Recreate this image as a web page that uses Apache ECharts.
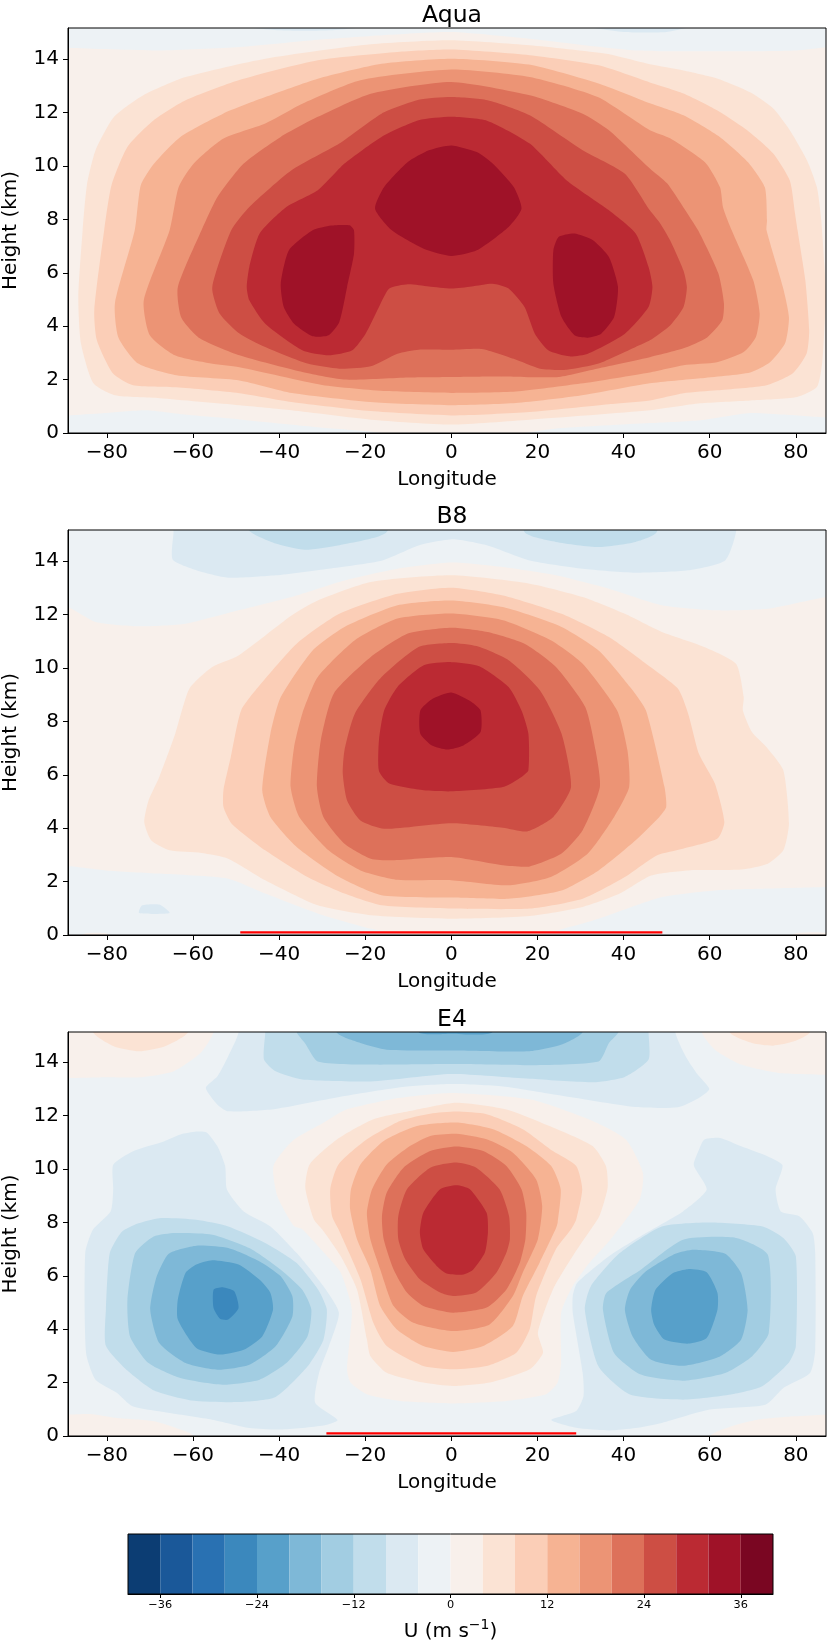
<!DOCTYPE html>
<html>
<head>
<meta charset="utf-8">
<title>U by longitude and height</title>
<script src="https://cdn.jsdelivr.net/npm/echarts@6/dist/echarts.min.js"></script>
<style>
  html, body { margin: 0; padding: 0; background: #fff; }
  #chart { width: 830px; height: 1642px; }
</style>
</head>
<body>
<div id="chart"></div>
<script>
// colour bar: lower edge of each 4 m/s band and its colour
const bandEdges = [-40, -36, -32, -28, -24, -20, -16, -12, -8, -4, 0, 4, 8, 12, 16, 20, 24, 28, 32, 36];
const bandColors = ['#0c3d73', '#1a5899', '#2971b2', '#3b88bd', '#57a0ca', '#7eb8d7', '#a2cde2', '#c1ddeb', '#dbe9f2', '#edf2f5',
  '#f8f0eb', '#fbe3d4', '#fbceb7', '#f6b393', '#ec9475', '#dd715a', '#cd4e44', '#bb2a33', '#9f1228', '#7a0622'];
const barTicks = [-36, -24, -12, 0, 12, 24, 36];
const lonTicks = [-80, -60, -40, -20, 0, 20, 40, 60, 80];
const heightTicks = [0, 2, 4, 6, 8, 10, 12, 14];

// everything below is [longitude, height km]
const wholePanel = [[-92, -1], [90, -1], [90, 17], [-92, 17]];

// --- Aqua
const aquaTopNeg = [[-92, 14.42], [-89, 14.42], [-68, 14.33], [-49, 14.46], [-31, 14.73], [-16, 14.9], [0, 15.02], [18, 14.77], [43, 14.33], [67, 14.3], [80, 14.33], [87, 14.45], [90, 14.45], [90, 17], [-92, 17]];
const aquaTopL = [[-52, 15.3], [-40, 15.08], [-28, 15.08], [-16, 15.3]];
const aquaTopR = [[29, 15.3], [40, 15.02], [50, 15.02], [57, 15.3]];
const aquaBotNeg = [[-92, 0.66], [-88.9, 0.66], [-80.9, 0.74], [-70.8, 0.85], [-62, 0.69], [-49.2, 0.51], [-31, 0.22], [-19, 0.06], [-11, -0.1], [12, -0.1], [24, 0.16], [46.1, 0.37], [57.8, 0.48], [69.4, 0.75], [77, 0.69], [87, 0.58], [90, 0.58], [90, -1], [-92, -1]];
const aquaU4 = [[0, 14.71], [18.2, 14.52], [36, 14.2], [46.1, 13.81], [53.9, 13.58], [61.7, 13.28], [69.4, 12.76], [74.7, 12.16], [78.6, 11.34], [82.6, 10.21], [84.9, 9.2], [85.9, 7.97], [86.6, 6.35], [87, 5.09], [86.6, 3.85], [86.1, 2.6], [84.9, 1.72], [80.3, 1.35], [69.4, 1.22], [57.8, 1.11], [46.1, 0.85], [18.2, 0.5], [0, 0.32], [-18.7, 0.5], [-37.1, 0.85], [-49.2, 1.04], [-67.7, 1.3], [-78.1, 1.41], [-83.1, 1.86], [-86, 3.36], [-86.6, 5.08], [-85.6, 7.59], [-84.6, 9.3], [-82.6, 10.59], [-78.3, 11.84], [-71.5, 12.65], [-61.7, 13.33], [-43.2, 14.02], [-18.7, 14.56]];
const aquaU8 = [[0, 14.36], [18.2, 14.15], [34.2, 13.77], [46.1, 13.13], [53.9, 12.72], [61.7, 12.09], [68.7, 11.34], [74.7, 10.48], [78.6, 9.46], [79.8, 8.23], [80.4, 7.59], [82.2, 5.72], [83.1, 3.85], [82.5, 2.98], [79.3, 2.24], [73.2, 1.79], [61.7, 1.6], [53.9, 1.49], [46.1, 1.22], [36.6, 1.08], [18.2, 0.79], [0, 0.66], [-18.7, 0.82], [-37.1, 1.16], [-49.2, 1.49], [-63.8, 1.71], [-73.9, 1.79], [-78.6, 2.24], [-82.3, 3.47], [-82.9, 4.6], [-80.6, 7.59], [-78.9, 9.28], [-75.2, 10.71], [-69.1, 11.71], [-61.7, 12.46], [-49.4, 13.21], [-31, 13.96], [-12.5, 14.27]];
const aquaU12 = [[0, 14.02], [18, 13.8], [34, 13.1], [46.1, 12.35], [53.9, 11.9], [62.4, 11.08], [68.9, 10.14], [72.8, 9.2], [73.3, 7.97], [73.2, 7.59], [77, 5.46], [78.4, 4.33], [77.5, 3.36], [74, 2.65], [69.4, 2.27], [57.8, 2.05], [46.1, 1.86], [30, 1.4], [15, 1.12], [0, 1.04], [-18, 1.15], [-37, 1.5], [-49.2, 1.97], [-63.8, 2.16], [-72.7, 2.6], [-77.3, 3.58], [-78.1, 4.86], [-73.5, 7.59], [-72.1, 9.28], [-69, 10.09], [-62.9, 11.09], [-53, 11.96], [-43.2, 12.58], [-31, 13.27], [-16.2, 13.83]];
const aquaU16 = [[0, 13.61], [18.2, 13.33], [34, 12.58], [46.1, 11.34], [50.8, 11.04], [58.9, 10.14], [62.4, 9.2], [63.1, 8.45], [65.1, 7.59], [70.1, 5.72], [71.6, 4.48], [70.7, 3.59], [67.8, 3.02], [61.7, 2.65], [53.9, 2.54], [46.1, 2.27], [30, 1.85], [15, 1.55], [0, 1.5], [-15, 1.57], [-30, 1.8], [-49.2, 2.46], [-56.1, 2.61], [-64.2, 2.91], [-70, 3.66], [-71.4, 4.97], [-65.4, 7.59], [-63.3, 9.21], [-59.8, 10.09], [-53, 11.02], [-43.2, 11.59], [-34.6, 12.33], [-21.1, 13.21]];
const aquaU20 = [[0, 13.15], [18.2, 12.65], [30.5, 11.96], [36.6, 11.34], [46.1, 9.91], [50.1, 9.35], [53.9, 8.45], [57.3, 7.59], [62, 5.98], [63.3, 4.86], [62.9, 4.22], [59.4, 3.58], [53.9, 3.17], [46.1, 2.84], [35, 2.45], [25, 2.1], [10, 2.12], [0, 2.1], [-10, 2.08], [-25, 2], [-35, 2.3], [-49.2, 2.91], [-58.4, 3.55], [-62.7, 4.33], [-63.5, 5.46], [-58, 7.59], [-54.3, 8.84], [-48.2, 10.09], [-39.6, 11.09], [-31, 11.84], [-18.7, 12.71]];
const aquaU24 = [[0, 12.58], [8.4, 12.46], [18.2, 11.9], [30.5, 10.59], [40.3, 9.71], [46.1, 8.34], [48.5, 7.85], [50.8, 7.22], [53.9, 6.09], [54.7, 5.46], [53.9, 4.71], [50.8, 4.03], [46.1, 3.47], [42.8, 3.22], [34.2, 2.6], [26.8, 2.37], [20.6, 2.41], [14.5, 2.78], [7.1, 3.15], [0, 3.12], [-7.6, 3.12], [-12.5, 2.97], [-18.7, 2.5], [-26, 2.41], [-33.4, 2.6], [-43.2, 3.22], [-49.2, 3.73], [-53.8, 4.48], [-55.5, 5.46], [-51.1, 7.59], [-46.9, 8.46], [-37.1, 9.84], [-26, 10.84], [-16.2, 11.96], [-7.6, 12.48]];
const aquaU28 = [[-47.5, 5.47], [-46.9, 6.22], [-44.5, 7.47], [-38.3, 8.46], [-31, 9.09], [-24.8, 10.09], [-16.2, 11.09], [-7.6, 11.71], [0, 11.84], [8.4, 11.69], [18.2, 10.84], [26.8, 9.46], [36.6, 8.34], [42.8, 7.47], [45.8, 6.22], [46.7, 5.47], [45.8, 4.72], [40.3, 3.72], [31.7, 2.97], [27.4, 2.87], [22.5, 3.1], [19.4, 3.72], [17, 4.72], [13.3, 5.41], [9.6, 5.59], [4.7, 5.49], [0, 5.41], [-5.2, 5.49], [-10.1, 5.57], [-14.4, 5.41], [-16.8, 4.72], [-19.9, 3.72], [-23, 3.1], [-28.5, 2.91], [-34.6, 3.1], [-43.2, 4.09], [-46.9, 4.97]];
const aquaU32Mid = [[0, 10.77], [5.9, 10.52], [9.6, 10.09], [14.5, 9.21], [16.3, 8.4], [13.3, 7.72], [5.9, 6.84], [0, 6.63], [-6.4, 6.9], [-13.8, 7.59], [-17.7, 8.4], [-15.6, 9.21], [-10.1, 10.15], [-5.2, 10.59]];
const aquaU32L = [[-22.6, 7.59], [-23.6, 7.78], [-27.9, 7.77], [-32.2, 7.59], [-37.7, 6.84], [-39.6, 5.59], [-38.9, 4.72], [-36.5, 4.09], [-32.2, 3.62], [-28.5, 3.66], [-26, 4.16], [-24.2, 5.47], [-22.6, 6.71]];
const aquaU32R = [[23.7, 6.84], [24.9, 7.34], [28.6, 7.47], [32.9, 7.22], [36.6, 6.59], [38.7, 5.47], [37.8, 4.34], [34.8, 3.72], [31.7, 3.57], [28.6, 3.66], [25.6, 4.34], [23.7, 5.59]];

// --- B8
const b8TopNeg = [[-92, 12.28], [-89, 12.28], [-82.6, 11.72], [-72.8, 11.56], [-61.7, 11.66], [-49.4, 12.16], [-37.1, 12.66], [-24.8, 13.28], [-12.5, 13.72], [0, 13.95], [12, 13.78], [24.3, 13.47], [36.6, 12.97], [48.9, 12.35], [61.2, 12.16], [73.5, 12.22], [87, 12.66], [90, 12.66], [90, 17], [-92, 17]];
const b8TopN4 = [[-64.5, 17], [-64.5, 15.09], [-64.7, 14.06], [-59.2, 13.66], [-51.8, 13.38], [-40.8, 13.47], [-28.5, 13.72], [-16, 14.03], [-7.6, 14.59], [0.4, 14.82], [8.4, 14.59], [18.2, 14.03], [30.5, 13.72], [42.8, 13.57], [55, 13.66], [63.6, 14.03], [66.1, 15.09], [66.5, 17]];
const b8TopN8L = [[-48, 17], [-47.2, 15.2], [-40.8, 14.66], [-34, 14.43], [-26, 14.6], [-15, 15.09], [-14, 17]];
const b8TopN8R = [[16, 17], [17, 15.09], [24.3, 14.72], [34.2, 14.53], [42.8, 14.72], [47.7, 15.09], [48.5, 17]];
const b8BotNeg = [[-92, 2.58], [-89, 2.58], [-80.2, 2.42], [-67.8, 2.3], [-51.8, 2.11], [-43.2, 1.55], [-30.9, 0.8], [-18.7, 0.24], [-7.6, -0.05], [18, -0.05], [23.1, 0.11], [34.2, 0.61], [48.9, 1.42], [61.2, 1.67], [73.5, 1.74], [87, 1.8], [90, 1.8], [90, -1], [-92, -1]];
const b8BlobN4 = [[-72.5, 0.82], [-71.8, 1.11], [-67.8, 1.14], [-65.4, 0.82]];
const b8CornerL = [[-88, -0.2], [-85, 0.06], [-80, 0.06], [-77, -0.2]];
const b8CornerR = [[77, -0.2], [80, 0.07], [87, 0.08], [88, -0.2]];
const b8U4 = [[-71.3, 4.23], [-69.7, 3.55], [-65.4, 3.17], [-58, 3.07], [-51.8, 2.86], [-43.2, 2.05], [-31, 1.11], [-18.7, 0.74], [0, 0.61], [18.2, 0.71], [30.5, 1.05], [39.1, 1.55], [46.4, 2.23], [55, 2.42], [67.3, 2.45], [73.5, 2.67], [77.1, 3.17], [78.4, 4.17], [77.1, 6.17], [73.5, 6.98], [69.8, 7.6], [67.7, 8.41], [67.9, 8.91], [66.1, 10.16], [58.7, 10.79], [48.9, 11.35], [40.3, 12.03], [30.5, 12.66], [18.2, 13.16], [0, 13.47], [-18.7, 13.22], [-31, 12.53], [-37.1, 11.97], [-49.4, 10.47], [-55.5, 10.04], [-60.8, 9.23], [-64.1, 7.54], [-67.8, 5.92], [-70.3, 5.04]];
const b8U8 = [[-52.9, 5.42], [-52.9, 4.79], [-51, 4.17], [-43.2, 3.17], [-33.4, 2.17], [-24.8, 1.55], [-16.2, 1.11], [0, 0.99], [18.2, 0.99], [30.5, 1.36], [40.3, 2.17], [47.7, 2.98], [53.8, 3.23], [61.8, 3.61], [63.4, 4.23], [61.2, 5.67], [57.5, 6.79], [55, 8.29], [52.6, 9.23], [45.2, 10.16], [36.6, 11.16], [25.6, 12.03], [12, 12.72], [0, 13.01], [-12.5, 12.78], [-26, 12.03], [-35.9, 10.91], [-44.5, 9.35], [-48.8, 8.41], [-51.2, 6.67]];
const b8U12 = [[-43.9, 5.42], [-42, 4.42], [-35.9, 3.3], [-26, 2.17], [-16.2, 1.49], [0, 1.4], [13.3, 1.36], [25.6, 1.67], [34.2, 2.42], [42.8, 3.55], [48.3, 4.42], [49.9, 4.79], [49.5, 5.54], [45.2, 8.41], [41.5, 9.29], [34.2, 10.66], [25.6, 11.54], [12, 12.28], [0, 12.53], [-12.5, 12.35], [-24.8, 11.54], [-32.2, 10.66], [-39.6, 8.91], [-42, 7.54]];
const b8U16 = [[-37.3, 5.54], [-35.3, 4.42], [-28.5, 3.17], [-21.1, 2.42], [-12.5, 2.07], [0, 2.05], [13.3, 1.86], [23.1, 2.17], [31.7, 3.05], [37.8, 4.42], [41.3, 5.54], [40.9, 6.92], [38.5, 8.41], [30.5, 10.16], [23.1, 11.04], [12, 11.79], [0, 12.04], [-12.5, 11.85], [-22.4, 11.04], [-31, 9.66], [-34.6, 8.29], [-36.5, 7.04]];
const b8U20 = [[-31.2, 5.54], [-29.7, 4.42], [-24.8, 3.42], [-18.7, 2.86], [-13.8, 2.8], [0, 2.92], [12, 2.61], [18.2, 2.57], [25.6, 3.05], [30.5, 3.92], [34.5, 5.54], [33.5, 6.92], [31.1, 8.54], [24.3, 10.04], [17, 10.91], [8.4, 11.35], [0, 11.51], [-10.1, 11.29], [-18.7, 10.41], [-27.3, 9.04], [-30.3, 7.29]];
const b8U24 = [[-25.2, 6.04], [-24.2, 5.04], [-21.1, 4.29], [-15.6, 3.98], [0, 4.19], [12, 4.02], [17.6, 3.88], [23.7, 4.42], [27.8, 5.54], [25.6, 7.54], [20.6, 9.16], [13.3, 10.29], [5.9, 10.82], [0, 10.94], [-7.6, 10.79], [-16.2, 9.66], [-22.4, 8.29], [-24.8, 6.92]];
const b8U28 = [[-16.8, 6.14], [-14.4, 5.67], [-6.4, 5.42], [0, 5.38], [12, 5.54], [16.3, 5.92], [17.9, 6.17], [17.9, 7.54], [16.3, 8.41], [13.3, 9.29], [6.5, 10.07], [0, 10.22], [-6.4, 10.1], [-12.5, 9.29], [-15.6, 8.41], [-16.8, 7.29]];
const b8U32 = [[-7.2, 8.41], [-7.2, 7.54], [-4.5, 7.1], [-0.9, 6.95], [2.8, 7.1], [6.8, 7.6], [6.8, 8.41], [4.7, 8.73], [0, 9.08], [-4.5, 8.83]];
const b8Ridge = [[-49, 0.1], [49, 0.1]];

// --- E4
const e4TopLP0 = [[-92, 13.41], [-89, 13.41], [-80.4, 13.44], [-71.8, 13.44], [-64.4, 13.66], [-58.2, 14.35], [-55.2, 15.13], [-55, 17], [-92, 17]];
const e4TopLP4 = [[-84, 17], [-83.2, 15.13], [-78.3, 14.59], [-72.5, 14.41], [-66.6, 14.59], [-61.1, 15.13], [-60, 17]];
const e4TopRP0 = [[57, 17], [58.1, 15.13], [61.2, 14.47], [67.3, 13.91], [75.9, 13.6], [87, 13.53], [90, 13.53], [90, 17]];
const e4TopRP4 = [[64, 17], [64.6, 15.13], [69.8, 14.72], [74.7, 14.62], [79.6, 14.78], [83.3, 15.13], [84, 17]];
const e4BotLP0 = [[-92, 0.8], [-89, 0.8], [-83.8, 0.82], [-77.6, 0.67], [-69, 0.55], [-62.9, 0.24], [-59.8, 0], [-59, -1], [-92, -1]];
const e4BotRP0 = [[59, -1], [60, 0], [64.9, 0.36], [71, 0.61], [79.6, 0.74], [87, 0.8], [90, 0.8], [90, -1]];
const e4TopN4 = [[-50, 17], [-49.4, 15.13], [-51.8, 14.22], [-54.3, 13.47], [-57, 13.03], [-54.3, 12.41], [-51.8, 12.16], [-40.8, 12.25], [-24.8, 12.73], [-11.3, 13.07], [0, 13.18], [12, 13.09], [24.3, 12.78], [42.8, 12.32], [52.6, 12.31], [57.5, 12.66], [59.9, 13], [56.9, 13.6], [54.4, 14.22], [52, 15.13], [52, 17]];
const e4TopN8 = [[-43.2, 17], [-43.2, 15.13], [-43.5, 14.1], [-40.8, 13.66], [-34.6, 13.35], [-18.7, 13.28], [0, 13.56], [18.2, 13.38], [32.9, 13.25], [40.3, 13.45], [45.8, 14.1], [45.8, 15.13], [45.8, 17]];
const e4TopN12 = [[-36.5, 17], [-35.9, 15.13], [-34, 14.72], [-31, 14.03], [-18.7, 13.91], [0, 13.93], [18.2, 13.89], [34.2, 14.03], [36.6, 14.72], [38.8, 15.13], [39.5, 17]];
const e4TopN16 = [[-27.5, 17], [-26.7, 15.13], [-21.1, 14.72], [-15, 14.47], [0, 14.44], [18.2, 14.41], [25.6, 14.66], [30.5, 15.13], [31.5, 17]];
const e4TopN20 = [[-9, 17], [-7.6, 15.13], [0, 15.07], [9.6, 15.13], [11, 17]];
const e4LeftN4 = [[-59.2, 11.4], [-56.8, 11.37], [-54.3, 10.85], [-52.5, 10.1], [-52.1, 9.23], [-48.2, 8.41], [-42, 7.85], [-35.9, 6.85], [-29.7, 5.61], [-26.1, 4.62], [-28.4, 3.37], [-30.7, 2.37], [-31.6, 1.25], [-26.4, 0.6], [-29.7, 0.39], [-39.6, 0.24], [-46.9, 0.3], [-55.5, 0.61], [-65.4, 0.86], [-74, 1.11], [-77.6, 1.61], [-82.6, 2.11], [-84.8, 3.11], [-85, 6.85], [-83.2, 7.73], [-79.1, 8.41], [-78.5, 9.23], [-78.5, 10.16], [-74, 10.66], [-66.6, 11.04], [-62.9, 11.29]];
const e4LeftN8 = [[-67.8, 8.16], [-59.2, 8.1], [-51.8, 7.85], [-43.2, 7.23], [-35.9, 6.48], [-30.9, 5.48], [-28.9, 4.74], [-29.7, 3.6], [-33.4, 2.6], [-40.8, 1.46], [-49.4, 1.27], [-60.4, 1.33], [-69, 1.7], [-75.2, 2.45], [-80.2, 3.38], [-80.2, 4.73], [-79.3, 6.85], [-76.5, 7.65], [-72.8, 7.96]];
const e4LeftN12 = [[-64.1, 7.6], [-55.5, 7.54], [-46.9, 7.04], [-39.6, 6.23], [-34.6, 5.48], [-32.5, 4.74], [-33.4, 3.73], [-38.3, 2.73], [-44.5, 2.11], [-53.1, 1.92], [-62.9, 2.17], [-70.3, 2.73], [-74.6, 3.73], [-75.2, 5.1], [-73.4, 6.85], [-69.1, 7.47]];
const e4LeftN16 = [[-59.2, 7.13], [-51.8, 7.04], [-44.5, 6.54], [-39.6, 5.98], [-36.9, 5.23], [-36.9, 4.48], [-40.8, 3.36], [-46.9, 2.67], [-54.3, 2.48], [-61.7, 2.73], [-67.8, 3.48], [-69.9, 4.73], [-68.4, 5.98], [-65.6, 6.83]];
const e4LeftN20 = [[-55.5, 6.58], [-49.4, 6.42], [-44.5, 5.85], [-42, 5.36], [-41.4, 4.73], [-43.9, 3.73], [-48.2, 3.23], [-53.7, 3.05], [-59.2, 3.3], [-63.5, 4.36], [-63.5, 5.11], [-61.7, 6.11], [-59.2, 6.42]];
const e4LeftN24 = [[-55.2, 5.48], [-53.1, 5.57], [-50.4, 5.42], [-49.4, 4.79], [-51.8, 4.36], [-53.7, 4.39], [-55.2, 4.79]];
const e4RightN4 = [[58.7, 11.1], [62.4, 11.16], [67.3, 10.85], [73.5, 10.47], [76.9, 10.14], [75.3, 9.23], [76.5, 8.41], [80.8, 8.23], [83.9, 7.6], [84.5, 6.85], [84.5, 3.23], [83.3, 2.36], [77.1, 1.8], [72.9, 1.17], [60, 0.99], [48.9, 0.49], [42.8, 0.3], [36.6, 0.21], [29, 0.31], [23.2, 0.6], [29, 0.94], [30.7, 1.5], [30.5, 2.37], [28.2, 4.62], [28.2, 5.24], [29.2, 5.73], [36.6, 6.73], [45.2, 7.6], [53.8, 8.41], [59.3, 9.23], [56.3, 10.14], [57.5, 10.72]];
const e4RightN8 = [[48.9, 7.85], [60, 8], [72.3, 7.85], [77.1, 7.42], [80, 6.73], [80, 3.36], [78.3, 2.73], [72.2, 1.86], [64.9, 1.55], [53.8, 1.36], [41.5, 1.55], [34.2, 2.6], [31, 4.74], [32.4, 5.61], [39.1, 6.85]];
const e4RightN12 = [[44, 6.23], [53.8, 7.35], [66.1, 7.42], [73.5, 6.79], [73.7, 3.86], [69.8, 2.98], [63.6, 2.36], [53.8, 2.07], [44, 2.3], [37.8, 3.11], [35.2, 4.74], [36, 5.36]];
const e4RightN16 = [[52, 6.83], [56.3, 6.98], [63.6, 6.83], [67.3, 6.1], [68.8, 4.73], [67.3, 3.61], [62.4, 2.98], [53.8, 2.63], [46.4, 2.86], [42.1, 3.73], [40.3, 4.73], [41.5, 5.48], [45.2, 6.17]];
const e4RightN20 = [[51.4, 6.1], [55, 6.25], [59.3, 6.13], [61.8, 5.36], [61.8, 4.73], [59.3, 3.67], [55, 3.46], [49.5, 3.61], [47.1, 4.17], [46.4, 4.73], [47.4, 5.48]];
const e4U0 = [[-41.3, 10.11], [-40.4, 8.99], [-36.6, 7.87], [-34.6, 7.74], [-29.6, 6.87], [-25.7, 6.12], [-23.1, 4.74], [-24.2, 2.5], [-23.4, 2], [-19.6, 1.56], [-11.9, 1.31], [0.4, 1.22], [12.8, 1.31], [22, 1.56], [24.7, 2], [25.5, 2.75], [25.5, 4.62], [28.2, 5.62], [32.1, 6.49], [36.9, 7.35], [43.7, 8.85], [44.5, 9.85], [40.5, 11.11], [32.8, 11.8], [18.5, 12.6], [0.3, 12.85], [-12.2, 12.66], [-24.5, 12.22], [-29.6, 11.74], [-36.9, 11.05]];
const e4U4 = [[-32.9, 10.17], [-33.9, 9.3], [-31.9, 8.11], [-30, 7.74], [-25.7, 6.74], [-21.9, 5.49], [-19.6, 3.62], [-18.8, 3], [-15, 2.37], [-6.5, 2], [0.4, 1.87], [8.9, 2], [18.2, 2.5], [21.3, 3.12], [20.1, 3.87], [23.6, 5.49], [28.2, 6.74], [32.4, 7.74], [34.4, 8.24], [36.3, 9.3], [35.9, 10.11], [32.8, 10.86], [22.8, 11.61], [12.8, 12.23], [1.2, 12.48], [-9.6, 12.17], [-18.1, 11.86], [-26.5, 11.11]];
const e4U8 = [[-26.2, 10.17], [-28.1, 9.26], [-27.7, 8.24], [-26.2, 7.74], [-21.1, 5.87], [-18.1, 4.24], [-15, 3.37], [-6.5, 2.62], [0.4, 2.5], [8.2, 2.62], [15.1, 3.12], [18.2, 4], [19.7, 5.24], [24.3, 7], [27.8, 7.74], [29, 8.11], [30.4, 9.24], [29, 10.11], [23.6, 10.67], [16.6, 11.49], [8.2, 12.05], [1.2, 12.15], [-4.9, 12.07], [-11.9, 11.8], [-19.6, 11.11]];
const e4U12 = [[-21.1, 10.17], [-23.3, 9.24], [-23.5, 8.49], [-21.9, 7.37], [-18.8, 6.24], [-16.5, 4.87], [-12.7, 4], [-6.5, 3.37], [0.4, 3.15], [7.4, 3.37], [14.3, 4.12], [16.6, 5.24], [20.5, 6.49], [24.2, 7.74], [24.7, 8], [25.4, 9.24], [23.2, 10.11], [17.4, 10.86], [9.7, 11.49], [1.2, 11.74], [-8, 11.61], [-15.7, 11.05]];
const e4U16 = [[-15, 10.17], [-18.4, 9.24], [-19.6, 8.36], [-18.8, 7.37], [-16.5, 6.24], [-13.4, 4.87], [-8.8, 4.24], [0.4, 3.93], [8.9, 4.18], [14.3, 5.24], [16.6, 6.12], [20.1, 7.37], [21.1, 8.61], [19.7, 9.61], [14.3, 10.61], [8.2, 11.11], [1.2, 11.32], [-4.9, 11.24], [-9.6, 10.86]];
const e4U20 = [[-11.1, 10.05], [-15, 9.11], [-16.1, 8.24], [-15.7, 7.37], [-13.4, 6.24], [-10.3, 5.37], [-6.5, 4.87], [0.4, 4.62], [8.2, 4.81], [12.8, 5.49], [15.9, 6.49], [17.2, 7.37], [17.4, 8.36], [16.3, 9.24], [12.8, 10.11], [7.4, 10.67], [1.2, 10.84], [-4.9, 10.67]];
const e4U24 = [[-10.3, 9.24], [-12.3, 8.24], [-12.3, 7.37], [-10.7, 6.62], [-7.3, 5.87], [-2.6, 5.37], [0.4, 5.24], [5.8, 5.37], [10.5, 6.12], [12.8, 6.87], [13.6, 7.37], [13.4, 8.24], [11.2, 9.24], [5.8, 10.05], [1.2, 10.24], [-4.9, 10.05]];
const e4U28 = [[-2.6, 9.24], [-6.5, 8.36], [-7.3, 7.62], [-6.5, 6.99], [-3.4, 6.37], [-1.1, 6.09], [2.8, 6.05], [5.1, 6.24], [7.8, 6.87], [8.5, 7.62], [8.2, 8.36], [4.3, 9.24], [1.2, 9.39]];
const e4Ridge = [[-29, 0.1], [29, 0.1]];

// paint order per panel: [band lower edge, outline]
const aquaShapes = [[0, wholePanel], [-4, aquaTopNeg], [-8, aquaTopL], [-8, aquaTopR], [-4, aquaBotNeg], [4, aquaU4], [8, aquaU8], [12, aquaU12], [16, aquaU16], [20, aquaU20], [24, aquaU24], [28, aquaU28], [32, aquaU32Mid], [32, aquaU32L], [32, aquaU32R]];
const b8Shapes = [[0, wholePanel], [-4, b8TopNeg], [-8, b8TopN4], [-12, b8TopN8L], [-12, b8TopN8R], [-4, b8BotNeg], [-8, b8BlobN4], [0, b8CornerL], [0, b8CornerR], [4, b8U4], [8, b8U8], [12, b8U12], [16, b8U16], [20, b8U20], [24, b8U24], [28, b8U28], [32, b8U32]];
const e4Shapes = [[-4, wholePanel], [0, e4TopLP0], [4, e4TopLP4], [0, e4TopRP0], [4, e4TopRP4], [0, e4BotLP0], [0, e4BotRP0],
  [-8, e4TopN4], [-12, e4TopN8], [-16, e4TopN12], [-20, e4TopN16], [-24, e4TopN20],
  [-8, e4LeftN4], [-12, e4LeftN8], [-16, e4LeftN12], [-20, e4LeftN16], [-24, e4LeftN20], [-28, e4LeftN24],
  [-8, e4RightN4], [-12, e4RightN8], [-16, e4RightN12], [-20, e4RightN16], [-24, e4RightN20],
  [0, e4U0], [4, e4U4], [8, e4U8], [12, e4U12], [16, e4U16], [20, e4U20], [24, e4U24], [28, e4U28]];

const FONT = '"DejaVu Sans"';
const minus = v => String(v).replace('-', '\u2212');
const bandColor = edge => bandColors[bandEdges.indexOf(edge)];

const panels = [
  { title: 'Aqua', top: 28, height: 405, titleTop: -1, shapes: aquaShapes, ridge: null },
  { title: 'B8', top: 530, height: 405, titleTop: 500, shapes: b8Shapes, ridge: b8Ridge },
  { title: 'E4', top: 1032, height: 404, titleTop: 1003, shapes: e4Shapes, ridge: e4Ridge }
];

function contourSeries(shapes, idx) {
  return {
    type: 'custom',
    xAxisIndex: idx,
    yAxisIndex: idx,
    clip: true,
    silent: true,
    data: shapes.map(s => [s[0]]),
    renderItem: function (params, api) {
      const shape = shapes[params.dataIndex];
      return {
        type: 'polygon',
        shape: { points: shape[1].map(p => api.coord(p)), smooth: 0.2 },
        style: { fill: bandColor(shape[0]) }
      };
    }
  };
}

const grids = [], xAxes = [], yAxes = [], series = [], titles = [];

panels.forEach((p, i) => {
  grids.push({ left: 68, width: 758, top: p.top, height: p.height, outerBoundsMode: 'none', show: true, backgroundColor: 'transparent', borderColor: '#000', borderWidth: 1, z: 10 });
  titles.push({ text: p.title, left: 447, top: p.titleTop, textAlign: 'center', textStyle: { fontFamily: FONT, fontSize: 23.5, fontWeight: 'normal', color: '#000' } });
  xAxes.push({
    type: 'value', gridIndex: i, min: -89, max: 87, z: 10,
    name: 'Longitude', nameLocation: 'middle', nameGap: 37,
    nameTextStyle: { fontFamily: FONT, fontSize: 20, color: '#000' },
    axisLine: { onZero: false, lineStyle: { color: '#000', width: 1 } },
    axisTick: { length: 5, customValues: lonTicks, lineStyle: { color: '#000' } },
    axisLabel: { customValues: lonTicks, formatter: minus, margin: 10, fontFamily: FONT, fontSize: 20, color: '#000' },
    splitLine: { show: false }
  });
  yAxes.push({
    type: 'value', gridIndex: i, min: 0, max: p.height / 26.7, z: 10,
    name: 'Height (km)', nameLocation: 'middle', nameGap: 47,
    nameTextStyle: { fontFamily: FONT, fontSize: 20, color: '#000' },
    axisLine: { show: true, onZero: false, lineStyle: { color: '#000', width: 1 } },
    axisTick: { show: true, length: 5, customValues: heightTicks, lineStyle: { color: '#000' } },
    axisLabel: { customValues: heightTicks, margin: 9, fontFamily: FONT, fontSize: 20, color: '#000' },
    splitLine: { show: false }
  });
  series.push(contourSeries(p.shapes, i));
  if (p.ridge) {
    series.push({
      type: 'line', xAxisIndex: i, yAxisIndex: i, data: p.ridge, z: 5, silent: true,
      showSymbol: false, symbol: 'none', lineStyle: { color: '#ff0000', width: 2.4 }, animation: false
    });
  }
});

// colour bar
grids.push({ left: 128, width: 645, top: 1534, height: 60, outerBoundsMode: 'none', show: true, backgroundColor: 'transparent', borderColor: '#000', borderWidth: 1, z: 10 });
xAxes.push({
  type: 'value', gridIndex: 3, min: -40, max: 40, z: 10,
  name: '{a|U (m s}{b|\u22121}{a|)}', nameLocation: 'middle', nameGap: 24,
  nameTextStyle: { rich: { a: { fontFamily: FONT, fontSize: 20, lineHeight: 28, color: '#000' }, b: { fontFamily: FONT, fontSize: 14, lineHeight: 16, verticalAlign: 'top', color: '#000' } } },
  axisLine: { onZero: false, lineStyle: { color: '#000', width: 1 } },
  axisTick: { length: 4, customValues: barTicks, lineStyle: { color: '#000' } },
  axisLabel: { customValues: barTicks, formatter: minus, margin: 6, fontFamily: FONT, fontSize: 11.3, color: '#000' },
  splitLine: { show: false }
});
yAxes.push({ type: 'value', gridIndex: 3, min: 0, max: 1, show: false });
series.push({
  type: 'custom', xAxisIndex: 3, yAxisIndex: 3, silent: true,
  data: bandEdges.map(e => [e, e + 4]),
  renderItem: function (params, api) {
    const a = api.coord([api.value(0), 1]);
    const b = api.coord([api.value(1), 0]);
    return { type: 'rect', shape: { x: a[0], y: a[1], width: b[0] - a[0], height: b[1] - a[1] }, style: { fill: bandColors[params.dataIndex] } };
  }
});

const myChart = echarts.init(document.getElementById('chart'), null, { renderer: 'canvas' });
myChart.setOption({
  animation: false,
  backgroundColor: '#fff',
  title: titles,
  grid: grids,
  xAxis: xAxes,
  yAxis: yAxes,
  series: series
});
</script>
</body>
</html>
